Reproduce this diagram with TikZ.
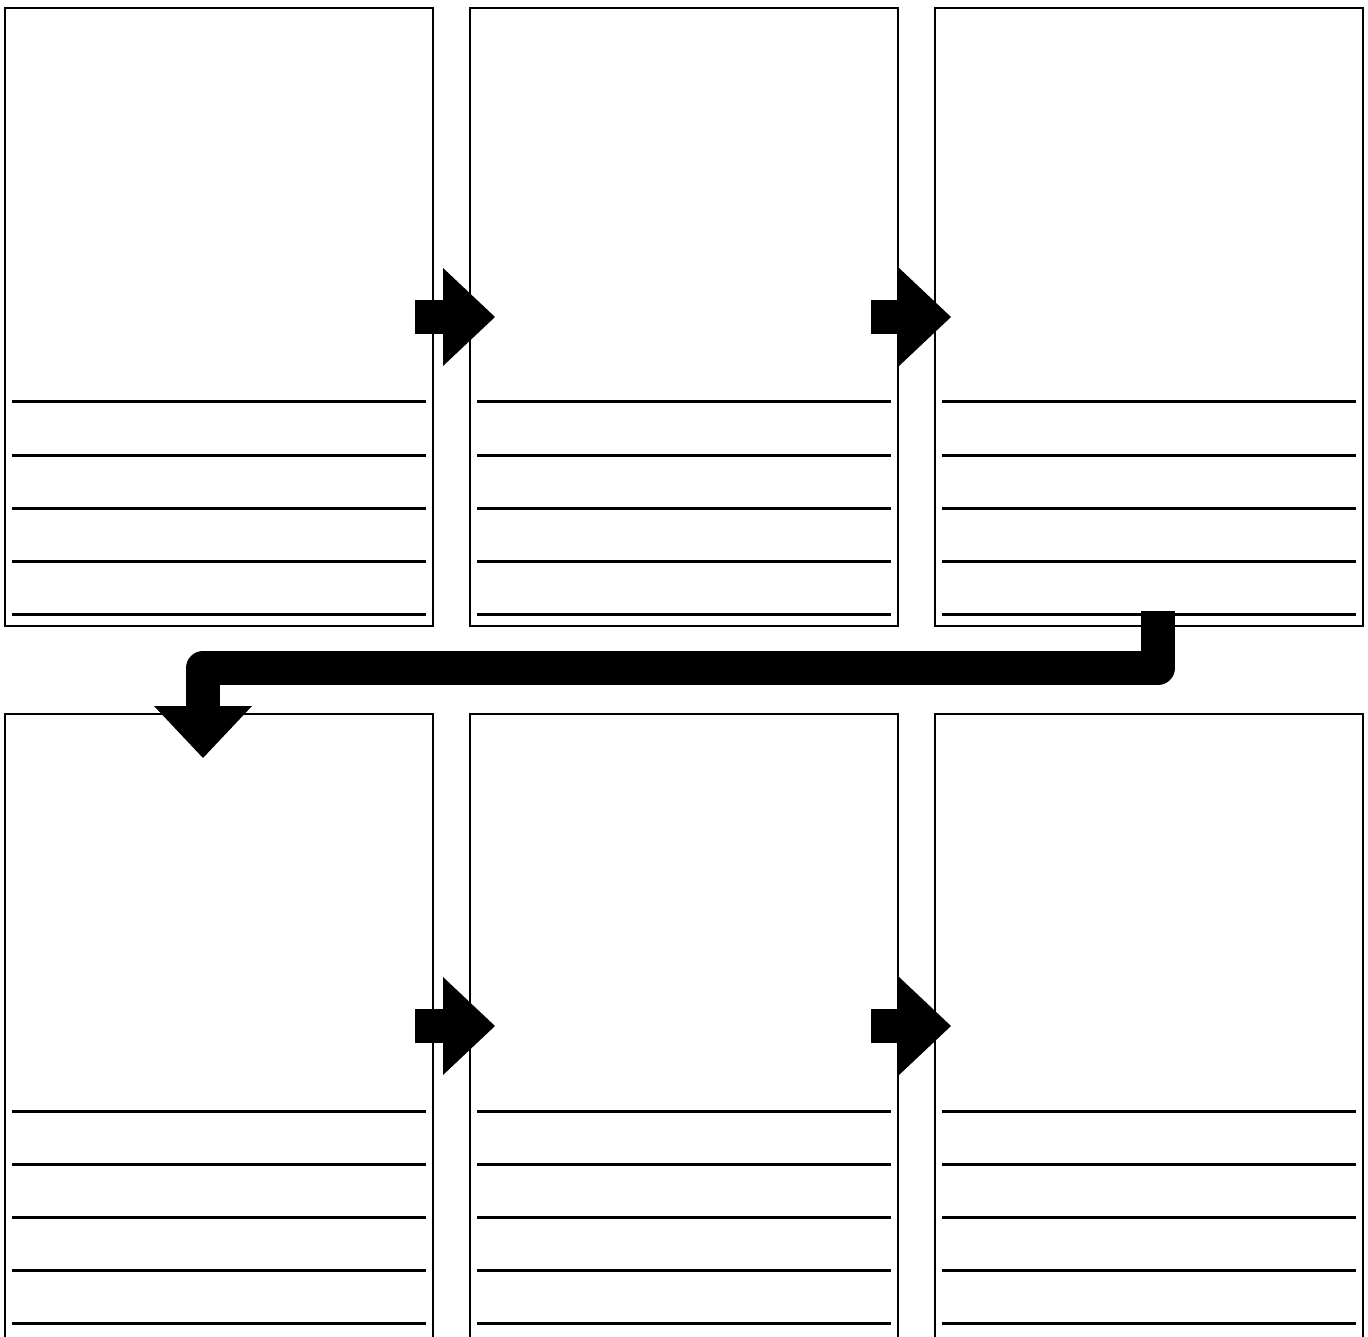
\documentclass[tikz,border=0pt]{standalone}
\usetikzlibrary{positioning, arrows.meta}
\tikzset{
    panel/.style={
        draw=black,
        line width=1.25pt,
        minimum width=214pt,
        minimum height=309pt,
        inner sep=0pt,
        outer sep=0pt
    },
    tallpanel/.style={
        panel,
        minimum height=321pt
    },
    ruleline/.style={
        line width=1.5pt
    },
    blockarrow/.style={
        line width=17pt,
        line join=round,
        -{Triangle[width=49pt, length=26pt, line width=0pt]}
    }
}

\begin{document}
\begin{tikzpicture}[x=0.5pt, y=-0.5pt]
  \useasboundingbox (0,0) rectangle (1368,1336);

  % top row
  \node[panel] (p1) at (219,317) {};
  \node[panel, right=18.5pt of p1] (p2) {};
  \node[panel, right=18.5pt of p2] (p3) {};

  % bottom row, runs off the page
  \node[tallpanel, below=44pt of p1] (p4) {};
  \node[tallpanel, right=18.5pt of p4] (p5) {};
  \node[tallpanel, right=18.5pt of p5] (p6) {};

  % writing lines
  \foreach \p in {p1,p2,p3}
    \foreach \k in {0,...,4}
      \draw[ruleline] ([xshift=3.5pt, yshift={-197pt-26.5pt*\k}]\p.north west)
                   -- ([xshift=-3.5pt, yshift={-197pt-26.5pt*\k}]\p.north east);
  \foreach \p in {p4,p5,p6}
    \foreach \k in {0,...,4}
      \draw[ruleline] ([xshift=3.5pt, yshift={-198.5pt-26.6pt*\k}]\p.north west)
                   -- ([xshift=-3.5pt, yshift={-198.5pt-26.6pt*\k}]\p.north east);

  % arrows
  \draw[blockarrow] ([xshift=-9pt]p1.east) -- ([xshift=12.5pt]p2.west);
  \draw[blockarrow] ([xshift=-13.5pt]p2.east) -- ([xshift=8pt]p3.west);
  \draw[blockarrow] ([xshift=-9pt, yshift=4.5pt]p4.east) -- ([xshift=12.5pt, yshift=4.5pt]p5.west);
  \draw[blockarrow] ([xshift=-13.5pt, yshift=4.5pt]p5.east) -- ([xshift=8pt, yshift=4.5pt]p6.west);

  \coordinate (down) at ([xshift=-8pt, yshift=-22pt]p4.north);
  \draw[blockarrow] ([xshift=4.5pt, yshift=7.5pt]p3.south) -- ++(0,57) -| (down);
\end{tikzpicture}
\end{document}
